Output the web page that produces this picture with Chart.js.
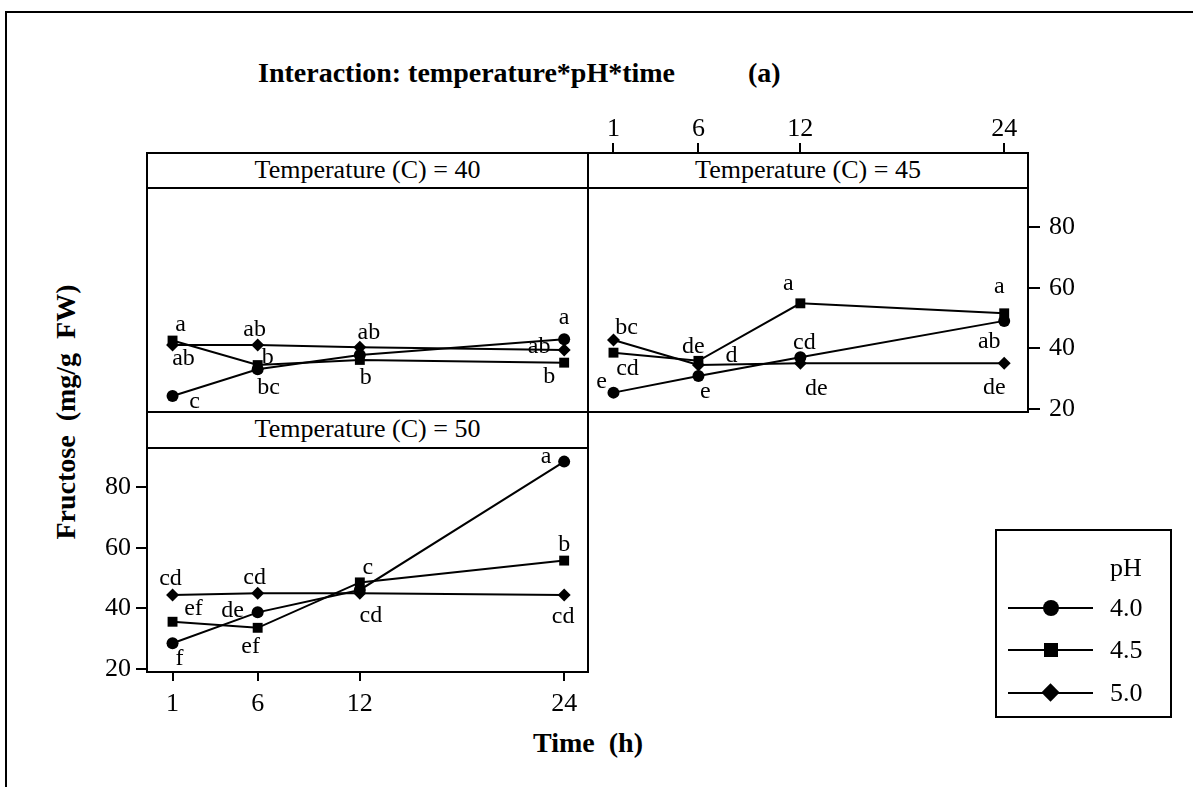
<!DOCTYPE html>
<html>
<head>
<meta charset="utf-8">
<script src="https://cdn.jsdelivr.net/npm/chart.js@4.4.1/dist/chart.umd.min.js"></script>
<style>
  body { margin: 0; background: #fff; }
  #page { position: relative; width: 1193px; height: 787px; overflow: hidden; background: #fff;
          font-family: "Liberation Serif", "Times New Roman", serif; color: #000; }
  canvas { position: absolute; left: 0; top: 0; }
  .frame { position: absolute; left: 5px; top: 11px; width: 1300px; height: 900px;
           border-top: 2px solid #000; border-left: 2px solid #000; }
  .strip { position: absolute; box-sizing: border-box; border: 2px solid #000; background: #fff;
           font-size: 26px; text-align: center; line-height: 31px; z-index: 5; }
  .title { position: absolute; font-weight: bold; font-size: 28px; line-height: 30px; white-space: pre; }
  .ytitle { position: absolute; font-weight: bold; font-size: 28px; line-height: 30px; white-space: pre;
            transform: translate(-50%, -50%) rotate(-90deg); }
  #legend { position: absolute; left: 995px; top: 529px; width: 177px; height: 189px;
            box-sizing: border-box; border: 2px solid #000; z-index: 5; }
  #legend .txt { position: absolute; font-size: 26px; line-height: 30px; }
  #legend .ln { position: absolute; left: 11px; width: 85px; height: 2px; background: #000; }
  #legend .mk { position: absolute; background: #000; }
</style>
</head>
<body>
<div id="page">
  <div class="frame"></div>
  <div class="title" style="left:258px; top:58px;">Interaction: temperature*pH*time</div>
  <div class="title" style="left:748px; top:58px;">(a)</div>
  <div class="ytitle" style="left:66px; top:412px;">Fructose  (mg/g  FW)</div>
  <div class="title" style="left:588px; top:728px; transform: translateX(-50%);">Time  (h)</div>

  <canvas id="c40" width="1193" height="787"></canvas>
  <canvas id="c45" width="1193" height="787"></canvas>
  <canvas id="c50" width="1193" height="787"></canvas>

  <div class="strip" style="left:146px; top:152px; width:443px; height:37px;">Temperature (C) = 40</div>
  <div class="strip" style="left:587px; top:152px; width:442px; height:37px;">Temperature (C) = 45</div>
  <div class="strip" style="left:146px; top:411px; width:443px; height:38px;">Temperature (C) = 50</div>

  <div id="legend">
    <div class="txt" style="left:113px; top:22px;">pH</div>
    <div class="ln" style="top:76px;"></div>
    <div class="mk" style="left:46px; top:69px; width:16px; height:16px; border-radius:50%;"></div>
    <div class="txt" style="left:113px; top:62px;">4.0</div>
    <div class="ln" style="top:118px;"></div>
    <div class="mk" style="left:47px; top:112px; width:14px; height:14px;"></div>
    <div class="txt" style="left:113px; top:104px;">4.5</div>
    <div class="ln" style="top:161px;"></div>
    <div class="mk" style="left:47px; top:155px; width:13px; height:13px; transform: rotate(45deg);"></div>
    <div class="txt" style="left:113px; top:147px;">5.0</div>
  </div>
</div>

<script>
// time (h) on the x axis, one entry per measurement
const times = [1, 6, 12, 24];
const phLevels = ['4.0', '4.5', '5.0'];
const yTicks = [20, 40, 60, 80];

// fructose (mg/g FW), temperature 40 C
const t40_ph40 = [24.3, 33.1, 37.8, 43.0];
const t40_ph45 = [42.6, 34.5, 36.2, 35.3];
const t40_ph50 = [41.1, 41.1, 40.4, 39.5];
// temperature 45 C
const t45_ph40 = [25.4, 30.9, 37.1, 49.1];
const t45_ph45 = [38.6, 35.9, 54.9, 51.6];
const t45_ph50 = [42.8, 34.5, 35.1, 35.1];
// temperature 50 C
const t50_ph40 = [28.5, 38.7, 46.1, 88.5];
const t50_ph45 = [35.6, 33.6, 48.6, 55.8];
const t50_ph50 = [44.4, 45.0, 45.0, 44.4];

// significance letters (same order as the series)
const let40_ph40 = ['c', 'bc', '', 'a'];
const let40_ph45 = ['a', 'b', 'b', 'b'];
const let40_ph50 = ['ab', 'ab', 'ab', 'ab'];
const let45_ph40 = ['e', 'e', 'cd', 'ab'];
const let45_ph45 = ['cd', 'de', 'a', 'a'];
const let45_ph50 = ['bc', 'd', 'de', 'de'];
const let50_ph40 = ['f', 'de', '', 'a'];
const let50_ph45 = ['ef', 'ef', 'c', 'b'];
const let50_ph50 = ['cd', 'cd', 'cd', 'cd'];

// pixel nudges of the letters from their point
const off40 = [
    [[22, 6], [11, 18], null, [0, -22]],
    [[8, -16], [10, -7], [6, 18], [-15, 14]],
    [[11, 14], [-3, -15], [9, -15], [-25, -3]]
];
const off45 = [
    [[-12, -11], [7, 16], [4, -15], [-15, 21]],
    [[14, 16], [-5, -14], [-12, -20], [-5, -27]],
    [[13, -12], [33, -9], [16, 25], [-10, 24]]
];
const off50 = [
    [[7, 15], [-25, -2], null, [-18, -5]],
    [[21, -13], [-7, 19], [8, -15], [0, -16]],
    [[-2, -16], [-3, -16], [11, 22], [-1, 22]]
];

const FONT = '"Liberation Serif", "Times New Roman", serif';
const markers = [
    { pointStyle: 'circle', pointRadius: 6 },
    { pointStyle: 'rect', pointRadius: 7 },
    { pointStyle: 'rectRot', pointRadius: 6.5 }
];

const boxPlugin = {
    id: 'box',
    afterDraw(chart) {
        const a = chart.chartArea, ctx = chart.ctx;
        ctx.save();
        ctx.strokeStyle = '#000';
        ctx.lineWidth = 2;
        ctx.strokeRect(a.left, a.top, a.right - a.left, a.bottom - a.top);
        ctx.restore();
    }
};

const letterPlugin = {
    id: 'letters',
    afterDatasetsDraw(chart, args, opts) {
        const ctx = chart.ctx, xs = chart.scales.x, ys = chart.scales.y;
        ctx.save();
        ctx.fillStyle = '#000';
        ctx.font = '24px ' + FONT;
        ctx.textAlign = 'center';
        ctx.textBaseline = 'middle';
        chart.data.datasets.forEach((ds, i) => {
            ds.data.forEach((p, j) => {
                const txt = opts.letters[i][j];
                if (!txt) return;
                const o = opts.offsets[i][j];
                ctx.fillText(txt, xs.getPixelForValue(p.x) + o[0], ys.getPixelForValue(p.y) + o[1]);
            });
        });
        ctx.restore();
    }
};

function axisStyle(tickLength, padding) {
    return {
        grid: { drawOnChartArea: false, drawTicks: true, tickLength: tickLength, color: '#000', lineWidth: 2 },
        border: { display: false },
        ticks: { color: '#000', font: { family: FONT, size: 26 }, padding: padding, autoSkip: false, maxRotation: 0 }
    };
}

function makePanel(id, series, letters, offsets, layout, xAxis, yAxis) {
    const datasets = series.map((vals, i) => ({
        label: phLevels[i],
        data: times.map((t, j) => ({ x: t, y: vals[j] })),
        borderColor: '#000',
        borderWidth: 2,
        backgroundColor: '#000',
        pointBackgroundColor: '#000',
        pointBorderColor: '#000',
        pointBorderWidth: 0,
        pointStyle: markers[i].pointStyle,
        pointRadius: markers[i].pointRadius,
        tension: 0,
        clip: false
    }));
    const x = Object.assign({
        type: 'linear', min: -0.5, max: 25.4, display: false,
        afterBuildTicks: s => { s.ticks = times.map(v => ({ value: v })); }
    }, xAxis);
    const y = Object.assign({
        type: 'linear', min: 19, max: 93, display: false,
        afterBuildTicks: s => { s.ticks = yTicks.map(v => ({ value: v })); }
    }, yAxis);
    return new Chart(document.getElementById(id), {
        type: 'line',
        data: { datasets: datasets },
        options: {
            responsive: false,
            animation: false,
            devicePixelRatio: 1,
            layout: { padding: layout },
            scales: { x: x, y: y },
            plugins: {
                legend: { display: false },
                tooltip: { enabled: false },
                letters: { letters: letters, offsets: offsets }
            }
        },
        plugins: [boxPlugin, letterPlugin]
    });
}

// T = 40: no axes, plot area 147..588 x 188..412
makePanel('c40', [t40_ph40, t40_ph45, t40_ph50], [let40_ph40, let40_ph45, let40_ph50], off40,
    { left: 147, top: 188, right: 605, bottom: 375 }, {}, {});

// T = 45: time axis on top (above the strip), fructose axis on the right
makePanel('c45', [t45_ph40, t45_ph45, t45_ph50], [let45_ph40, let45_ph45, let45_ph50], off45,
    { left: 588, top: 108, right: 85, bottom: 375 },
    Object.assign({ display: true, position: 'top', afterFit: s => { s.height = 80; } }, axisStyle(45, -2)),
    Object.assign({ display: true, position: 'right', afterFit: s => { s.width = 80; } }, axisStyle(12, 9)));

// T = 50: time axis at the bottom, fructose axis on the left
makePanel('c50', [t50_ph40, t50_ph45, t50_ph50], [let50_ph40, let50_ph45, let50_ph50], off50,
    { left: 47, top: 448, right: 605, bottom: 35 },
    Object.assign({ display: true, position: 'bottom', afterFit: s => { s.height = 80; } }, axisStyle(9, 8)),
    Object.assign({ display: true, position: 'left', afterFit: s => { s.width = 100; } }, axisStyle(11, 5)));
</script>
</body>
</html>
